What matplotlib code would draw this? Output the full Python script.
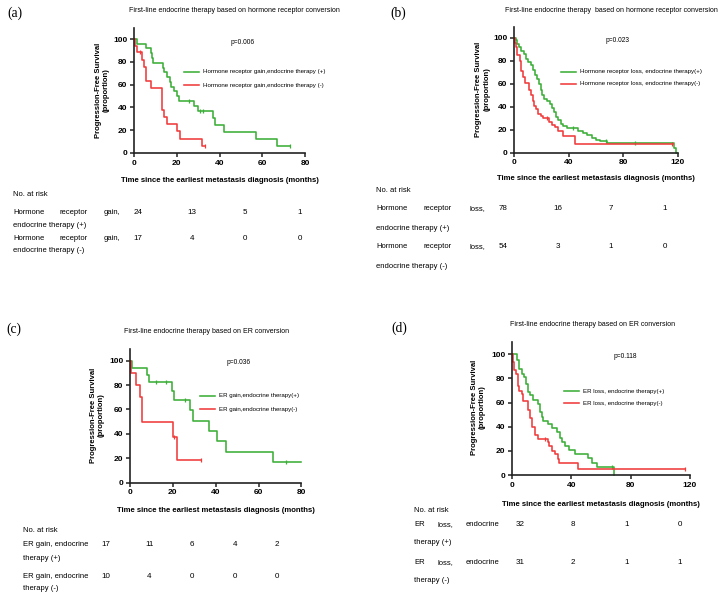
import numpy as np
import matplotlib
matplotlib.use('Agg')
import matplotlib.pyplot as plt
from matplotlib.lines import Line2D

W, H = 720, 602
GREEN = '#3cae38'
RED = '#f03b3b'
SANS = 'Liberation Sans'
SERIF = 'Liberation Serif'

XLABEL = 'Time since the earliest metastasis diagnosis (months)'
YLABEL = 'Progression-Free Survival\n(proportion)'

# (a) hormone receptor gain
A_POS_T = [0, 1.2, 5.6, 7.8, 8.3, 9.0, 13.7, 14.2, 15.3, 16.8, 17.5, 18.9, 20.0, 21.0, 28.2, 30.1, 36.8, 37.9, 42.1, 57.1, 66.8]
A_POS_S = [100, 95.8, 91.7, 87.5, 83.3, 79.2, 75.0, 70.8, 66.7, 62.5, 58.3, 54.2, 50.0, 45.8, 41.2, 36.6, 30.5, 24.4, 18.3, 12.2, 6.1]
A_POS_CENS = [25.9, 31.0, 32.2, 73.0]
A_POS_END = 73.0
A_NEG_T = [0, 0.5, 1.5, 3.8, 4.6, 5.6, 7.8, 13.0, 14.0, 15.5, 20.0, 21.6, 32.0]
A_NEG_S = [100, 94.1, 88.2, 82.0, 75.7, 63.1, 56.8, 37.9, 31.6, 25.3, 19.0, 12.6, 6.3]
A_NEG_CENS = [2.6, 33.0]
A_NEG_END = 33.0
A_RISK_POS = [24, 13, 5, 1]
A_RISK_NEG = [17, 4, 0, 0]

# (b) hormone receptor loss
B_POS_T = [0, 1.5, 2.4, 3.9, 5.4, 7.3, 8.8, 10.5, 12.2, 14.0, 15.4, 17.0, 18.5, 19.5, 20.7, 22.0, 24.0, 26.0,
           27.6, 29.3, 30.7, 32.4, 34.1, 36.0, 38.5, 47.0, 50.7, 53.7, 56.8, 60.0, 63.0, 67.8, 117.0, 118.5]
B_POS_S = [100, 98, 95, 92, 89, 86, 82, 79, 76, 72, 68, 64, 60, 55, 50, 47, 45, 42,
           39, 35, 31, 28, 25, 23, 21, 19, 17, 15, 13, 11, 10, 8, 4, 0]
B_POS_CENS = [43.4, 67.5, 88.8]
B_POS_END = 119.0
B_NEG_T = [0, 0.5, 1.5, 2.4, 4.4, 4.9, 6.8, 7.8, 11.2, 12.2, 13.7, 14.6, 16.1, 17.8, 19.5, 21.5, 25.9, 27.6,
           30.0, 32.4, 36.0, 44.6]
B_NEG_S = [100, 96, 92, 85, 80, 71, 66, 61, 55, 50, 45, 41, 38, 34, 32, 30, 27, 24, 22, 19, 14, 7]
B_NEG_CENS = [24.0, 115.9]
B_NEG_END = 116.0
B_RISK_POS = [78, 16, 7, 1]
B_RISK_NEG = [54, 3, 1, 0]

# (c) ER gain
C_POS_T = [0, 1.1, 7.8, 8.9, 19.5, 20.7, 27.8, 29.6, 36.7, 40.6, 44.8, 66.8]
C_POS_S = [100, 94.1, 88.2, 82.4, 75.5, 67.9, 59.4, 50.9, 42.4, 33.9, 25.5, 17.0]
C_POS_CENS = [12.0, 16.7, 25.7, 73.0]
C_POS_END = 80.0
C_NEG_T = [0, 0.5, 2.7, 4.7, 5.8, 20.0, 21.8]
C_NEG_S = [100, 90, 80, 70, 50, 37.5, 18.8]
C_NEG_CENS = [20.7, 33.2]
C_NEG_END = 33.2
C_RISK_POS = [17, 11, 6, 4, 2]
C_RISK_NEG = [10, 4, 0, 0, 0]

# (d) ER loss
D_POS_T = [0, 3.1, 4.7, 6.5, 7.9, 9.2, 10.6, 12.1, 14.4, 17.8, 18.9, 20.0, 21.1, 24.5, 26.7, 30.1, 32.4,
           33.5, 35.7, 38.4, 42.5, 51.5, 54.2, 57.0, 68.5]
D_POS_S = [100, 95, 88, 84, 81, 75, 69, 66, 62, 59, 52, 48, 45, 42, 39, 36, 31, 27, 24, 21, 17, 14, 10, 7, 0]
D_POS_CENS = [67.2]
D_POS_END = 68.5
D_NEG_T = [0, 0.5, 1.6, 2.5, 3.8, 4.7, 6.5, 7.6, 11.0, 12.1, 13.3, 15.5, 17.8, 24.0, 25.2, 26.7, 29.0,
           30.8, 31.7, 44.7]
D_NEG_S = [100, 94, 87, 84, 74, 70, 67, 61, 54, 47, 40, 33, 30, 27, 24, 20, 17, 13, 10, 5]
D_NEG_CENS = [22.0, 116.6]
D_NEG_END = 116.6
D_RISK_POS = [32, 8, 1, 0]
D_RISK_NEG = [31, 2, 1, 1]

fig = plt.figure(figsize=(7.2, 6.02), dpi=100)


def fx(px):
    return px / W


def fy(py):
    return 1 - py / H


def put(px, py, s, size=5.5, ha='left', **kw):
    fig.text(fx(px), fy(py), s, fontsize=size, ha=ha, va='center', family=SANS, **kw)


def km(ax, t, s, cens, end, color):
    tt = np.array(list(t) + [end])
    ss = np.array(list(s) + [s[-1]])
    ax.step(tt, ss, where='post', color=color, lw=1.15, clip_on=False)
    idx = np.searchsorted(tt, cens, side='right') - 1
    ax.plot(cens, ss[idx], ls='none', marker='|', ms=3.4, mew=0.9, color=color, clip_on=False)


def make_axes(left, right, y0, y100, xmax, xticks):
    ppu = (y0 - y100) / 100
    top = y0 - 110 * ppu
    ax = fig.add_axes([fx(left), fy(y0), (right - left) / W, (y0 - top) / H])
    ax.set_xlim(0, xmax)
    ax.set_ylim(0, 110)
    ax.set_xticks(xticks)
    ax.set_yticks([0, 20, 40, 60, 80, 100])
    for side in ['top', 'right']:
        ax.spines[side].set_visible(False)
    for side in ['left', 'bottom']:
        ax.spines[side].set_linewidth(1.2)
        ax.spines[side].set_color('#222222')
    ax.tick_params(length=3.2, width=1.1, pad=1.5, labelsize=6.0, color='#222222')
    for lab in ax.get_xticklabels() + ax.get_yticklabels():
        lab.set_fontweight('bold')
        lab.set_family(SANS)
    ax.patch.set_alpha(0)
    return ax


def legend(x0, y1, y2, lab1, lab2):
    for yy, col, lab in [(y1, GREEN, lab1), (y2, RED, lab2)]:
        fig.add_artist(Line2D([fx(x0), fx(x0 + 15)], [fy(yy), fy(yy)], color=col, lw=1.15,
                              transform=fig.transFigure))
        put(x0 + 19, yy, lab, size=4.45)


def risk_row(words, wx, py, nums, nx):
    for w, x in zip(words, wx):
        put(x, py, w)
    for n, x in zip(nums, nx):
        put(x, py, str(n), ha='center', size=5.8)


# ---------- (a)
ax = make_axes(134, 305, 153, 39, 80, [0, 20, 40, 60, 80])
km(ax, A_POS_T, A_POS_S, A_POS_CENS, A_POS_END, GREEN)
km(ax, A_NEG_T, A_NEG_S, A_NEG_CENS, A_NEG_END, RED)
fig.text(fx(7), fy(13), '(a)', fontsize=9.8, family=SERIF, va='center')
put(234, 11, 'First-line endocrine therapy based on hormone receptor conversion', size=5.0, ha='center')
put(243, 42, 'p=0.006', size=4.8, ha='center')
legend(184, 72, 85, 'Hormone receptor gain,endocrine therapy (+)', 'Hormone receptor gain,endocrine therapy (-)')
put(219.5, 180, XLABEL, size=5.6, ha='center', fontweight='bold')
put(102.5, 90, YLABEL, size=5.5, ha='center', fontweight='bold', rotation=90, linespacing=1.2)
put(13, 194, 'No. at risk')
risk_row(['Hormone', 'receptor', 'gain,'], [13, 60, 104], 212, A_RISK_POS, [138, 192, 245, 300])
put(13, 225, 'endocrine therapy (+)')
risk_row(['Hormone', 'receptor', 'gain,'], [13, 60, 104], 238, A_RISK_NEG, [138, 192, 245, 300])
put(13, 251, 'endocrine therapy (-)')

# ---------- (b)
ax = make_axes(514, 678, 152.5, 38, 120, [0, 40, 80, 120])
km(ax, B_POS_T, B_POS_S, B_POS_CENS, B_POS_END, GREEN)
km(ax, B_NEG_T, B_NEG_S, B_NEG_CENS, B_NEG_END, RED)
fig.text(fx(390), fy(13), '(b)', fontsize=9.8, family=SERIF, va='center')
put(611, 11, 'First-line endocrine therapy  based on hormone receptor conversion', size=5.0, ha='center')
put(618, 40, 'p=0.023', size=4.8, ha='center')
legend(561, 72, 84, 'Hormone receptor loss, endocrine therapy(+)', 'Hormone receptor loss, endocrine therapy(-)')
put(596, 178, XLABEL, size=5.6, ha='center', fontweight='bold')
put(483, 89, YLABEL, size=5.5, ha='center', fontweight='bold', rotation=90, linespacing=1.2)
put(376, 190, 'No. at risk')
risk_row(['Hormone', 'receptor', 'loss,'], [376, 424, 469], 209, B_RISK_POS, [503, 558, 611, 665])
put(376, 228, 'endocrine therapy (+)')
risk_row(['Hormone', 'receptor', 'loss,'], [376, 424, 469], 247, B_RISK_NEG, [503, 558, 611, 665])
put(376, 266, 'endocrine therapy (-)')

# ---------- (c)
ax = make_axes(130, 301.5, 482.7, 360.7, 80, [0, 20, 40, 60, 80])
km(ax, C_POS_T, C_POS_S, C_POS_CENS, C_POS_END, GREEN)
km(ax, C_NEG_T, C_NEG_S, C_NEG_CENS, C_NEG_END, RED)
fig.text(fx(6), fy(329), '(c)', fontsize=9.8, family=SERIF, va='center')
put(207, 332, 'First-line endocrine therapy based on ER conversion', size=5.0, ha='center')
put(239, 363, 'p=0.036', size=4.8, ha='center')
legend(200, 396, 409, 'ER gain,endocrine therapy(+)', 'ER gain,endocrine therapy(-)')
put(216, 511, XLABEL, size=5.6, ha='center', fontweight='bold')
put(97.5, 415, YLABEL, size=5.5, ha='center', fontweight='bold', rotation=90, linespacing=1.2)
put(23, 531, 'No. at risk')
risk_row(['ER gain, endocrine'], [23], 545, C_RISK_POS, [106, 149.5, 192, 235, 277])
put(23, 559, 'therapy (+)')
risk_row(['ER gain, endocrine'], [23], 576, C_RISK_NEG, [106, 149.5, 192, 235, 277])
put(23, 588, 'therapy (-)')

# ---------- (d)
ax = make_axes(512, 690, 475, 354.3, 120, [0, 40, 80, 120])
km(ax, D_POS_T, D_POS_S, D_POS_CENS, D_POS_END, GREEN)
km(ax, D_NEG_T, D_NEG_S, D_NEG_CENS, D_NEG_END, RED)
fig.text(fx(391), fy(328), '(d)', fontsize=9.8, family=SERIF, va='center')
put(593, 325, 'First-line endocrine therapy based on ER conversion', size=5.0, ha='center')
put(625, 357, 'p=0.118', size=4.8, ha='center')
legend(564, 391, 403, 'ER loss, endocrine therapy(+)', 'ER loss, endocrine therapy(-)')
put(601, 505, XLABEL, size=5.6, ha='center', fontweight='bold')
put(478, 407, YLABEL, size=5.5, ha='center', fontweight='bold', rotation=90, linespacing=1.2)
put(414, 511, 'No. at risk')
risk_row(['ER', 'loss,', 'endocrine'], [414, 438, 466], 525, D_RISK_POS, [520.5, 573, 627, 680])
put(414, 543, 'therapy (+)')
risk_row(['ER', 'loss,', 'endocrine'], [414, 438, 466], 563, D_RISK_NEG, [520.5, 573, 627, 680])
put(414, 581, 'therapy (-)')

fig.savefig('out.png', dpi=100)
